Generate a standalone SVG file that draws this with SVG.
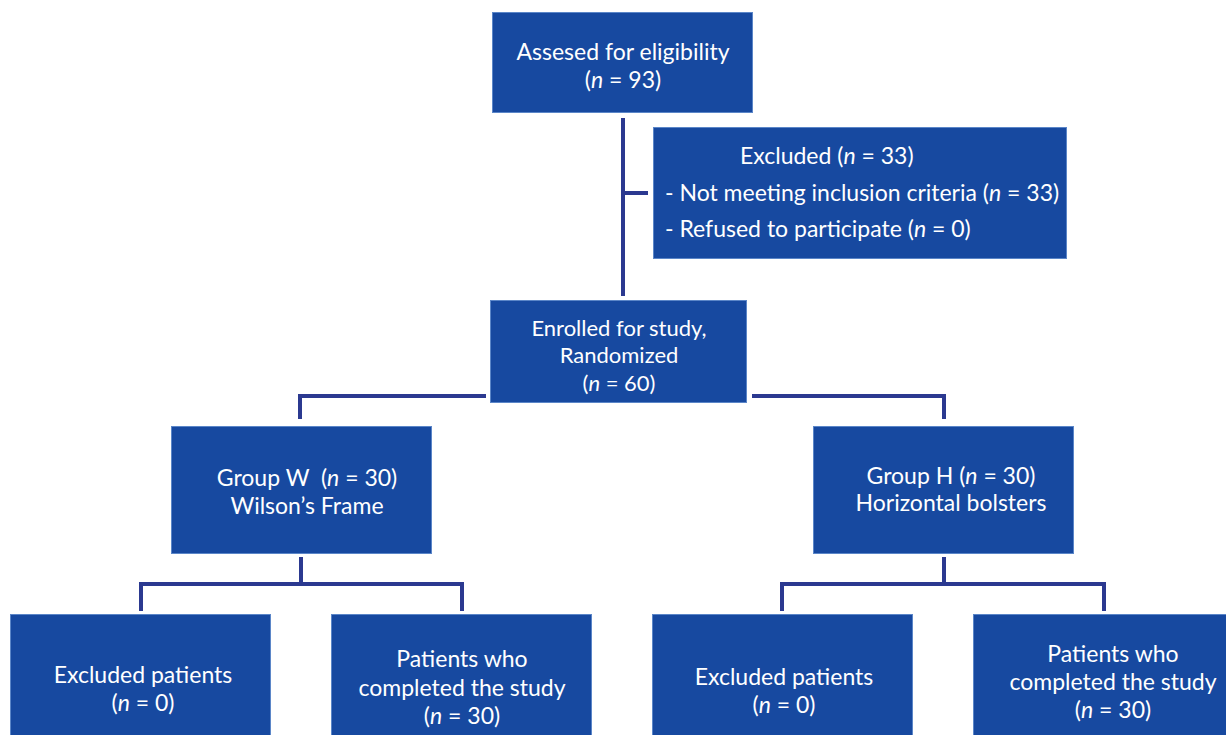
<svg xmlns="http://www.w3.org/2000/svg" width="1226" height="735" viewBox="0 0 1226 735">
<style>
.box{fill:#1749a0;stroke:#5b86c8;stroke-width:1}
.t{font-family:Lato,"Liberation Sans",sans-serif;font-size:23px;fill:#ffffff;text-anchor:middle}
.tl{font-family:Lato,"Liberation Sans",sans-serif;font-size:23px;fill:#ffffff}
.tc{font-family:Lato,"Liberation Sans",sans-serif;font-size:22px;fill:#ffffff;text-anchor:middle}
.c{fill:none;stroke:#2b3990;stroke-width:4}
</style>
<rect width="1226" height="735" fill="#ffffff"/>
<g id="connectors">
<path class="c" d="M623 118 V296 M623 193 H648"/>
<path class="c" d="M486 396 H300 V419 M752 396 H944 V419"/>
<path class="c" d="M301 557 V584 M141 611 V584 H462 V611"/>
<path class="c" d="M944 557 V584 M782 611 V584 H1104 V611"/>
</g>
<g id="assessed">
<rect class="box" x="492.5" y="12.5" width="260" height="100"/>
<text class="t" x="623" y="60">Assesed for eligibility</text>
<text class="t" x="623" y="88">(<tspan font-style="italic">n</tspan> = 93)</text>
</g>
<g id="excluded">
<rect class="box" x="653.5" y="127.5" width="413" height="131"/>
<text class="tl" x="740" y="164">Excluded (<tspan font-style="italic">n</tspan> = 33)</text>
<text class="tl" x="665" y="201">- Not meeting inclusion criteria (<tspan font-style="italic">n</tspan> = 33)</text>
<text class="tl" x="665" y="237">- Refused to participate (<tspan font-style="italic">n</tspan> = 0)</text>
</g>
<g id="enrolled">
<rect class="box" x="490.5" y="300.5" width="256" height="102"/>
<text class="tc" x="619" y="336">Enrolled for study,</text>
<text class="tc" x="619" y="363">Randomized</text>
<text class="tc" x="619" y="391">(<tspan font-style="italic">n</tspan> = 60)</text>
</g>
<g id="groupW">
<rect class="box" x="171.5" y="426.5" width="260" height="127"/>
<text class="t" x="307" y="486">Group W&#160; (<tspan font-style="italic">n</tspan> = 30)</text>
<text class="t" x="307" y="514">Wilson’s Frame</text>
</g>
<g id="groupH">
<rect class="box" x="813.5" y="426.5" width="260" height="127"/>
<text class="t" x="951" y="484">Group H (<tspan font-style="italic">n</tspan> = 30)</text>
<text class="t" x="951" y="511">Horizontal bolsters</text>
</g>
<g id="wExcluded">
<rect class="box" x="10.5" y="614.5" width="260" height="125"/>
<text class="t" x="143" y="683">Excluded patients</text>
<text class="t" x="143" y="711">(<tspan font-style="italic">n</tspan> = 0)</text>
</g>
<g id="wCompleted">
<rect class="box" x="331.5" y="614.5" width="260" height="125"/>
<text class="t" x="462" y="667">Patients who</text>
<text class="t" x="462" y="696">completed the study</text>
<text class="t" x="462" y="724">(<tspan font-style="italic">n</tspan> = 30)</text>
</g>
<g id="hExcluded">
<rect class="box" x="652.5" y="614.5" width="260" height="125"/>
<text class="t" x="784" y="685">Excluded patients</text>
<text class="t" x="784" y="713">(<tspan font-style="italic">n</tspan> = 0)</text>
</g>
<g id="hCompleted">
<rect class="box" x="973.5" y="614.5" width="260" height="125"/>
<text class="t" x="1113" y="662">Patients who</text>
<text class="t" x="1113" y="690">completed the study</text>
<text class="t" x="1113" y="718">(<tspan font-style="italic">n</tspan> = 30)</text>
</g>
</svg>
